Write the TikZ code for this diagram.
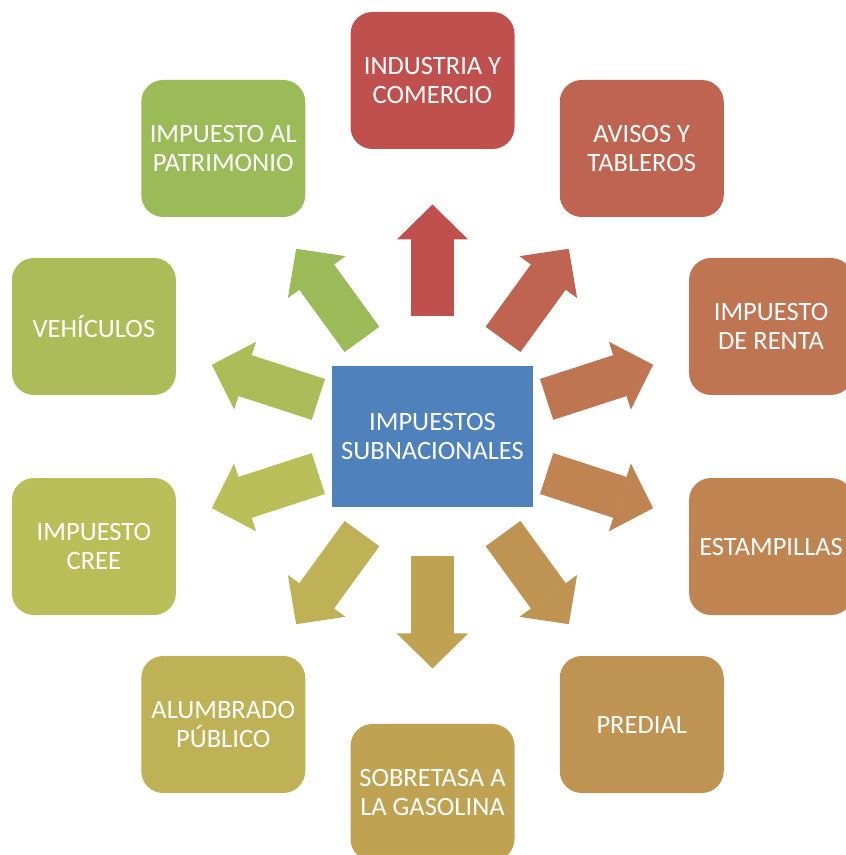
\documentclass[tikz,border=0pt]{standalone}
\usepackage{fontspec}
\setmainfont{Carlito}
\usetikzlibrary{arrows.meta}

\definecolor{c-subnac}{RGB}{79,129,189}
\definecolor{c-industria}{RGB}{192,80,77}
\definecolor{c-avisos}{RGB}{191,100,80}
\definecolor{c-renta}{RGB}{191,116,82}
\definecolor{c-estampillas}{RGB}{191,132,82}
\definecolor{c-predial}{RGB}{191,147,82}
\definecolor{c-sobretasa}{RGB}{191,163,83}
\definecolor{c-alumbrado}{RGB}{191,177,85}
\definecolor{c-cree}{RGB}{186,190,88}
\definecolor{c-vehiculos}{RGB}{172,188,89}
\definecolor{c-patrimonio}{RGB}{155,187,89}

\begin{document}
\begin{tikzpicture}[x=1pt,y=1pt,
    taxbox/.style={rounded corners=22pt, minimum width=164pt, minimum height=137pt,
      inner sep=0pt, text=white, align=center, font=\fontsize{26.5}{29}\selectfont},
    hubbox/.style={taxbox, sharp corners, minimum width=201pt, minimum height=141pt},
    spoke/.style={line width=43pt, -{Triangle[width=71pt,length=35pt,line width=1.5pt]},
      shorten <=120pt, shorten >=124pt}]

      % Bounding box
      \useasboundingbox (0,0) rectangle (846,855);

      \draw (432.5,418.5) node[hubbox, fill=c-subnac] (subnac) {IMPUESTOS\\SUBNACIONALES};

      % ring of taxes, r = 356
      \draw (subnac.center) ++(90:356) node[taxbox, fill=c-industria] (industria) {INDUSTRIA Y\\COMERCIO};
      \draw (subnac.center) ++(54:356) node[taxbox, fill=c-avisos] (avisos) {AVISOS Y\\TABLEROS};
      \draw (subnac.center) ++(18:356) node[taxbox, fill=c-renta] (renta) {IMPUESTO\\DE RENTA};
      \draw (subnac.center) ++(-18:356) node[taxbox, fill=c-estampillas] (estampillas) {ESTAMPILLAS};
      \draw (subnac.center) ++(-54:356) node[taxbox, fill=c-predial] (predial) {PREDIAL};
      \draw (subnac.center) ++(-90:356) node[taxbox, fill=c-sobretasa] (sobretasa) {SOBRETASA A\\LA GASOLINA};
      \draw (subnac.center) ++(-126:356) node[taxbox, fill=c-alumbrado] (alumbrado) {ALUMBRADO\\PÚBLICO};
      \draw (subnac.center) ++(-162:356) node[taxbox, fill=c-cree] (cree) {IMPUESTO\\CREE};
      \draw (subnac.center) ++(162:356) node[taxbox, fill=c-vehiculos] (vehiculos) {VEHÍCULOS};
      \draw (subnac.center) ++(126:356) node[taxbox, fill=c-patrimonio] (patrimonio) {IMPUESTO AL\\PATRIMONIO};

      \draw [spoke, c-industria] (subnac.center) -- (industria.center);
      \draw [spoke, c-avisos] (subnac.center) -- (avisos.center);
      \draw [spoke, c-renta] (subnac.center) -- (renta.center);
      \draw [spoke, c-estampillas] (subnac.center) -- (estampillas.center);
      \draw [spoke, c-predial] (subnac.center) -- (predial.center);
      \draw [spoke, c-sobretasa] (subnac.center) -- (sobretasa.center);
      \draw [spoke, c-alumbrado] (subnac.center) -- (alumbrado.center);
      \draw [spoke, c-cree] (subnac.center) -- (cree.center);
      \draw [spoke, c-vehiculos] (subnac.center) -- (vehiculos.center);
      \draw [spoke, c-patrimonio] (subnac.center) -- (patrimonio.center);
\end{tikzpicture}
\end{document}
